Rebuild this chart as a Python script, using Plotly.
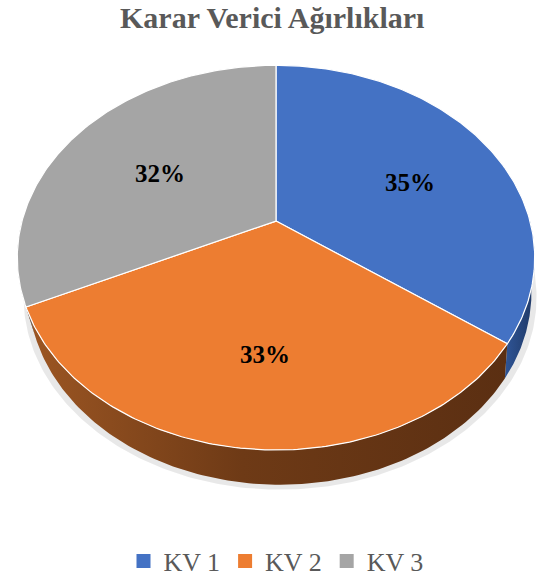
import numpy as np
import plotly.graph_objects as go

# ---- data ----
labels = ["KV 1", "KV 2", "KV 3"]
values = [35, 33, 32]
title_text = "Karar Verici Ağırlıkları"

# ---- style ----
top_colors = ["#4472C4", "#ED7D31", "#A5A5A5"]
side_scales = [
    [[0, "#2f5597"], [1, "#1f3864"]],
    [[0, "#9c5623"], [0.45, "#6e3a16"], [1, "#5b2f12"]],
    [[0, "#7a7a7a"], [1, "#5e5e5e"]],
]
W, H = 538, 585
CX, CY, A, B, K, DEPTH = 276, 223, 254, 187, 0.19, 35
SC, XSHIFT = 0.972, 4
SERIF = "Liberation Serif"


def proj(theta_deg, r=1.0):
    t = np.radians(theta_deg)
    s = 1.0 / (1.0 + K * r * np.cos(t))
    return CX + A * r * np.sin(t) * s, CY - B * r * np.cos(t) * s


def proj_bottom(theta_deg):
    x, y = proj(theta_deg)
    return CX + XSHIFT + (x - CX) * SC, y + DEPTH


total = float(sum(values))
angles = np.concatenate([[0.0], np.cumsum(values) / total * 360.0])
vis_lo, vis_hi = 90.0, 270.0

fig = go.Figure()

# soft shadow under the pie
th = np.linspace(vis_lo + 5, vis_hi - 5, 200)
sx, sy = proj_bottom(th)
tx, ty = proj(th)
fig.add_trace(go.Scatter(
    x=np.concatenate([sx + (sx - CX) * 0.02, tx[::-1]]),
    y=np.concatenate([sy + 5, ty[::-1]]),
    fill="toself", mode="lines", line=dict(width=0),
    fillcolor="rgba(0,0,0,0.09)", hoverinfo="skip", showlegend=False))

# side walls
for i in range(len(values)):
    a1, a2 = max(angles[i], vis_lo), min(angles[i + 1], vis_hi)
    if a2 <= a1:
        continue
    th = np.linspace(a1, a2, 120)
    x, y = proj(th)
    bx, by = proj_bottom(th)
    px = np.concatenate([x, bx[::-1]])
    py = np.concatenate([y, by[::-1]])
    fig.add_trace(go.Scatter(
        x=px, y=py, fill="toself", mode="lines", line=dict(width=0),
        fillgradient=dict(type="horizontal", colorscale=side_scales[i]),
        hoverinfo="skip", showlegend=False))

# top faces
for i in range(len(values)):
    th = np.linspace(angles[i], angles[i + 1], 160)
    x, y = proj(th)
    px = np.concatenate([[CX], x, [CX]])
    py = np.concatenate([[CY], y, [CY]])
    fig.add_trace(go.Scatter(
        x=px, y=py, fill="toself", mode="lines",
        line=dict(color="white", width=1.2), fillcolor=top_colors[i],
        hoverinfo="skip", showlegend=False))

# percentage labels
for i, v in enumerate(values):
    mid = (angles[i] + angles[i + 1]) / 2
    lx, ly = proj(mid, 0.6)
    fig.add_annotation(x=lx + 5, y=ly + 9, text=f"<b>{round(100 * v / total)}%</b>",
                       showarrow=False, font=dict(family=SERIF, size=25, color="black"))

# title
fig.add_annotation(x=272 / W, y=1 - 18 / H, xref="paper", yref="paper", showarrow=False,
                   yanchor="middle", text=f"<b>{title_text}</b>",
                   font=dict(family=SERIF, size=30, color="#595959"))

# legend entries
for i, lab in enumerate(labels):
    fig.add_trace(go.Scatter(
        x=[None], y=[None], mode="markers", name=lab,
        marker=dict(symbol="square", size=14, color=top_colors[i])))

fig.update_layout(
    width=W, height=H, margin=dict(l=0, r=0, t=0, b=0),
    paper_bgcolor="white", plot_bgcolor="white",
    font=dict(family=SERIF),
    xaxis=dict(range=[0, W], visible=False, fixedrange=True),
    yaxis=dict(range=[H, 0], visible=False, fixedrange=True),
    legend=dict(orientation="h", x=276 / W, xanchor="center", y=1 - 566 / H,
                yanchor="middle", font=dict(family=SERIF, size=26, color="#595959"),
                itemwidth=30, bgcolor="rgba(0,0,0,0)"),
    showlegend=True,
)

fig.write_html("out.html", config={"displayModeBar": False},
               post_script="document.body.style.margin='0';document.body.style.overflow='hidden';")
